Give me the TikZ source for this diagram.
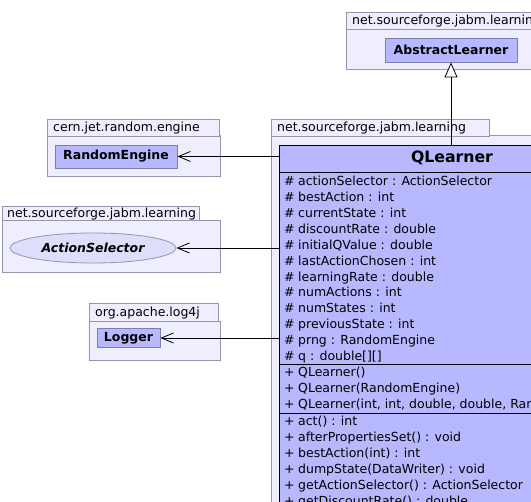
\documentclass[tikz,border=0pt]{standalone}
\usepackage{fontspec}
\setmainfont{DejaVu Sans}
\usetikzlibrary{arrows.meta,shapes.geometric}
\definecolor{pkgfill}{RGB}{238,238,255}
\definecolor{pkgline}{RGB}{150,150,170}
\definecolor{clsfill}{RGB}{184,184,255}
\definecolor{clsline}{RGB}{125,125,175}
\definecolor{ifcfill}{RGB}{222,222,250}
\tikzset{
  pkgbody/.style={draw=pkgline, fill=pkgfill, line width=0.8pt, anchor=north west, inner sep=0pt},
  pkgtab/.style={draw=pkgline, fill=pkgfill, line width=0.8pt, anchor=north west, inner sep=0pt},
  pkglabel/.style={anchor=base west, inner sep=0pt, font=\fontsize{12.5}{14}\selectfont},
  smallcls/.style={draw=clsline, fill=clsfill, line width=0.8pt, inner sep=0pt, font=\fontsize{12.5}{14}\selectfont\bfseries},
  rowtext/.style={anchor=base west, inner sep=0pt, font=\fontsize{12.5}{14}\selectfont},
  dep/.style={draw=black, line width=0.8pt, -{Straight Barb[length=12pt, width=10pt, line width=0.8pt]}},
  inherit/.style={draw=black, line width=0.8pt, -{Triangle[open, length=15pt, width=13pt, line width=0.8pt, fill=white]}},
  sep/.style={draw=black, line width=0.8pt}
}
\begin{document}
\begin{tikzpicture}[x=1pt, y=-1pt]
\useasboundingbox (0,0) rectangle (531,502);
\clip (0,0) rectangle (531,502);
\fill[white] (0,0) rectangle (531,502);

% ---- package of AbstractLearner
\node[pkgbody, minimum width=200pt, minimum height=41pt] (pk1) at (346,28) {};
\node[pkgtab, minimum width=200pt, minimum height=17pt] (pk1t) at (346,12) {};
\node[pkglabel] (pk1l) at (352,25) {net.sourceforge.jabm.learning};
\node[smallcls, minimum width=132pt, minimum height=24pt] (al) at (451,50) {AbstractLearner};

% ---- package of QLearner
\node[pkgbody, minimum width=300pt, minimum height=400pt] (pk2) at (271,135) {};
\node[pkgtab, minimum width=218pt, minimum height=17pt] (pk2t) at (271,119) {};
\node[pkglabel] (pk2l) at (277,132) {net.sourceforge.jabm.learning};

% ---- package of RandomEngine
\node[pkgbody, minimum width=173pt, minimum height=41pt] (pk3) at (47,135) {};
\node[pkgtab, minimum width=172pt, minimum height=17pt] (pk3t) at (47,119) {};
\node[pkglabel] (pk3l) at (53,132) {cern.jet.random.engine};
\node[smallcls, minimum width=122pt, minimum height=23pt] (re) at (116,156.5) {RandomEngine};

% ---- package of ActionSelector
\node[pkgbody, minimum width=218pt, minimum height=52pt] (pk4) at (2,220) {};
\node[pkgtab, minimum width=197pt, minimum height=14pt] (pk4t) at (2,206) {};
\node[pkglabel] (pk4l) at (7,217.5) {net.sourceforge.jabm.learning};
\node[ellipse, draw=pkgline, fill=ifcfill, line width=0.8pt, minimum width=166pt, minimum height=30pt, inner sep=0pt, font=\fontsize{12.5}{14}\selectfont\bfseries\itshape] (as) at (93,248) {ActionSelector};

% ---- package of Logger
\node[pkgbody, minimum width=131pt, minimum height=39pt] (pk5) at (89,321) {};
\node[pkgtab, minimum width=129pt, minimum height=18pt] (pk5t) at (89,303) {};
\node[pkglabel] (pk5l) at (95,317) {org.apache.log4j};
\node[smallcls, minimum width=63pt, minimum height=19pt] (lg) at (128.5,338) {Logger};

% ---- QLearner class
\node[draw=black, fill=clsfill, line width=0.8pt, anchor=north west, minimum width=346pt, minimum height=400pt, inner sep=0pt] (qbox) at (279,145) {};
\node[inner sep=0pt, font=\fontsize{15.7}{18}\selectfont\bfseries] (qname) at (452,158) {QLearner};
\draw[sep] (qbox.west |- 0,172) -- (540,172);
\draw[sep] (qbox.west |- 0,364) -- (540,364);
\draw[sep] (qbox.west |- 0,413) -- (540,413);

\foreach \t [count=\i] in {
  actionSelector : ActionSelector,
  bestAction : int,
  currentState : int,
  discountRate : double,
  initialQValue : double,
  lastActionChosen : int,
  learningRate : double,
  numActions : int,
  numStates : int,
  previousState : int,
  prng : RandomEngine,
  {q : double[][]}}
  \node[rowtext] (attr\i) at (284, {186+(\i-1)*15.85}) {\makebox[14pt][l]{\#}\t};

\foreach \t [count=\i] in {
  QLearner(),
  QLearner(RandomEngine),
  {QLearner(int, int, double, double, RandomEngine)}}
  \node[rowtext] (ctor\i) at (284, {377+(\i-1)*15.85}) {\makebox[14pt][l]{+}\t};

\foreach \t [count=\i] in {
  act() : int,
  afterPropertiesSet() : void,
  bestAction(int) : int,
  dumpState(DataWriter) : void,
  getActionSelector() : ActionSelector,
  getDiscountRate() : double}
  \node[rowtext] (meth\i) at (284, {426+(\i-1)*15.85}) {\makebox[14pt][l]{+}\t};

% ---- connectors
\draw[dep] (qbox.west |- re.east) -- (re.east);
\draw[dep] (qbox.west |- as.east) -- (as.east);
\draw[dep] (qbox.west |- lg.east) -- (lg.east);
\draw[inherit] (qbox.north -| al.south) -- (al.south);
\end{tikzpicture}
\end{document}
